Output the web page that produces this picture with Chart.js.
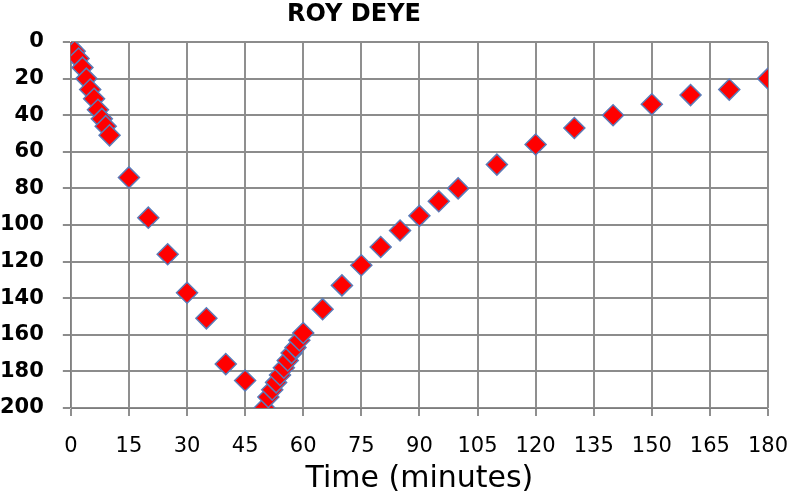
<!DOCTYPE html>
<html>
<head>
<meta charset="utf-8">
<script src="https://cdn.jsdelivr.net/npm/chart.js@4"></script>
<style>
  html, body { margin: 0; padding: 0; background: #ffffff; }
</style>
</head>
<body>
<canvas id="c" width="788" height="494"></canvas>
<script>
const chartTitle = 'ROY DEYE';
const xAxisTitle = 'Time (minutes)';
const times  = [0,1,2,3,4,5,6,7,8,9,10,15,20,25,30,35,40,45,50,51,52,53,54,55,56,57,58,59,60,65,70,75,80,85,90,95,100,110,120,130,140,150,160,170,180];
const values = [3,5,9,14,20,26,31,37,42,46,51,74,96,116,137,151,176,185,200,194,190,186,182,178,174,170,167,163,159,146,133,122,112,103,95,87,80,67,56,47,40,34,29,26,20];
const xTickStep = 15, xMin = 0, xMax = 180;
const yTickStep = 20, yMin = 0, yMax = 200;

const points = times.map((t, i) => ({ x: t, y: values[i] }));

const titlePlacer = {
  id: 'titlePlacer',
  afterLayout(chart) {
    if (chart.titleBlock) { chart.titleBlock.left = 0; chart.titleBlock.right = 708; }
  }
};

new Chart(document.getElementById('c'), {
  type: 'scatter',
  data: {
    datasets: [{
      data: points,
      pointStyle: 'rectRot',
      pointRadius: 10.5,
      backgroundColor: '#ff0000',
      borderColor: '#5b7bb8',
      borderWidth: 1.5
    }]
  },
  plugins: [titlePlacer],
  options: {
    responsive: false,
    animation: false,
    layout: { padding: { left: -19, right: 0, top: 3, bottom: 0 } },
    plugins: {
      legend: { display: false },
      tooltip: { enabled: false },
      title: {
        display: true,
        text: chartTitle,
        color: '#000000',
        font: { family: 'DejaVu Sans', size: 24, weight: 'bold', lineHeight: 1.0 },
        padding: { top: 0, bottom: 15 }
      }
    },
    scales: {
      x: {
        min: xMin, max: xMax,
        afterFit: (s) => { s.height = 86; s.paddingRight = 20; s.paddingLeft = 0; },
        ticks: {
          stepSize: xTickStep,
          color: '#000000',
          font: { family: 'DejaVu Sans', size: 21 },
          padding: 18,
          maxRotation: 0
        },
        grid: { color: '#8f8f8f', lineWidth: 2 },
        title: {
          display: true,
          text: xAxisTitle,
          color: '#000000',
          font: { family: 'DejaVu Sans', size: 30, lineHeight: 1.0 },
          padding: { top: 8, bottom: 0 }
        }
      },
      y: {
        reverse: true,
        min: yMin, max: yMax,
        ticks: {
          stepSize: yTickStep,
          color: '#000000',
          font: { family: 'DejaVu Sans', size: 21, weight: 'bold' },
          padding: 19
        },
        grid: { color: '#8c8c8c', lineWidth: 2 }
      }
    }
  }
});
</script>
</body>
</html>
